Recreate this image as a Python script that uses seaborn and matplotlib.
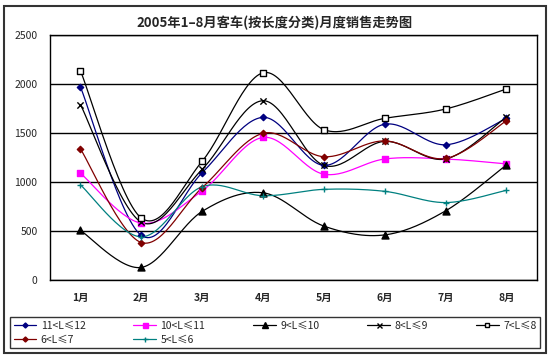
import numpy as np
import pandas as pd
import matplotlib
matplotlib.use('Agg')
import matplotlib.pyplot as plt
import seaborn as sns
from matplotlib.lines import Line2D
from matplotlib.patches import Rectangle

# Data
months = ['1月', '2月', '3月', '4月', '5月', '6月', '7月', '8月']
len_11_12 = [1970, 455, 1095, 1660, 1170, 1590, 1380, 1650]
len_10_11 = [1090, 580, 910, 1455, 1080, 1235, 1235, 1185]
len_9_10 = [505, 128, 700, 890, 550, 460, 705, 1175]
len_8_9 = [1790, 590, 1130, 1830, 1170, 1415, 1235, 1665]
len_7_8 = [2135, 632, 1212, 2115, 1535, 1650, 1745, 1950]
len_6_7 = [1337, 382, 942, 1497, 1258, 1420, 1240, 1625]
len_5_6 = [970, 440, 952, 860, 925, 905, 790, 915]

labels = ['11<L≤12', '10<L≤11', '9<L≤10', '8<L≤9', '7<L≤8', '6<L≤7', '5<L≤6']
series = [len_11_12, len_10_11, len_9_10, len_8_9, len_7_8, len_6_7, len_5_6]
colors = ['#000080', '#FF00FF', '#000000', '#000000', '#000000', '#800000', '#008080']
markers = ['D', 's', '^', 'x', 's', 'D', '+']
mfaces = ['#000080', '#FF00FF', '#000000', '#000000', 'white', '#800000', '#008080']
msizes = [3.2, 4.5, 5, 4.5, 4.2, 3.2, 4.5]

sns.set_theme(style='white')
plt.rcParams['font.family'] = ['Noto Sans CJK SC', 'DejaVu Sans']


def smooth(y, steps=30):
    """Excel-like smoothed line (Catmull-Rom bezier) through the points"""
    y = np.asarray(y, dtype=float)
    x = np.arange(len(y), dtype=float)
    pts = np.column_stack([x, y])
    out = []
    for i in range(len(pts) - 1):
        p0 = pts[max(i - 1, 0)]
        p1 = pts[i]
        p2 = pts[i + 1]
        p3 = pts[min(i + 2, len(pts) - 1)]
        c1 = p1 + (p2 - p0) / 6
        c2 = p2 - (p3 - p1) / 6
        t = np.linspace(0, 1, steps)[:, None]
        seg = ((1 - t) ** 3) * p1 + 3 * ((1 - t) ** 2) * t * c1 + 3 * (1 - t) * t ** 2 * c2 + t ** 3 * p2
        out.append(seg if i == 0 else seg[1:])
    return np.vstack(out)


fig = plt.figure(figsize=(5.5, 3.58), dpi=100)
ax = fig.add_axes([0.091, 0.218, 0.885, 0.684])

for vals, lab, col, mk, mf, ms in zip(series, labels, colors, markers, mfaces, msizes):
    curve = smooth(vals)
    curve_df = pd.DataFrame({'x': curve[:, 0], 'y': curve[:, 1]})
    sns.lineplot(data=curve_df, x='x', y='y', ax=ax, color=col, lw=0.9, sort=False)
    pts = pd.DataFrame({'x': np.arange(len(vals)), 'y': vals})
    sns.scatterplot(data=pts, x='x', y='y', ax=ax, marker=mk, s=ms ** 2,
                    color=mf, edgecolor=col, linewidth=1.0, zorder=5)

ax.set_xlim(-0.5, len(months) - 0.5)
ax.set_ylim(0, 2500)
ax.set_yticks(np.arange(0, 2501, 500))
ax.set_xticks(np.arange(len(months)))
ax.set_xticklabels(months, fontsize=7.5, fontweight='bold')
ax.set_yticklabels([str(v) for v in range(0, 2501, 500)], fontsize=7.5)
ax.tick_params(axis='x', length=0, pad=9)
ax.tick_params(axis='y', length=0, pad=9)
ax.set_xticks(np.arange(0.5, len(months) - 0.5), minor=True)
ax.tick_params(axis='x', which='minor', direction='in', length=3, width=0.8, color='black')
ax.set_xlabel('')
ax.set_ylabel('')
ax.grid(axis='y', color='black', lw=1.0)
ax.set_axisbelow(True)
for sp in ax.spines.values():
    sp.set_color('black')
    sp.set_linewidth(1.0)

fig.text(0.5, 0.935, '2005年1–8月客车(按长度分类)月度销售走势图', ha='center', va='center',
         fontsize=9.5, fontweight='bold')

handles = [Line2D([0], [0], color=c, lw=0.9, marker=m, markersize=s * 0.8,
                  markerfacecolor=f, markeredgecolor=c)
           for c, m, f, s in zip(colors, markers, mfaces, msizes)]
# legend fills column by column, so order the entries to read row by row
order = [0, 5, 1, 6, 2, 3, 4]
leg = fig.legend([handles[i] for i in order], [labels[i] for i in order], ncol=5,
                 loc='lower left', mode='expand',
                 bbox_to_anchor=(0.018, 0.028, 0.964, 0.089), fontsize=7.5,
                 frameon=True, fancybox=False, borderpad=0.35, handlelength=2.2,
                 handletextpad=0.4, labelspacing=0.35, borderaxespad=0)
leg.get_frame().set_edgecolor('black')
leg.get_frame().set_linewidth(1.0)
leg._legend_box.align = 'left'
for t in leg.get_texts():
    t.set_x(0)
leg.get_frame().set_x(leg.get_frame().get_x())
leg.set_bbox_to_anchor((0.018, 0.028, 0.964, 0.089), transform=fig.transFigure)

fig.patches.append(Rectangle((0.008, 0.014), 0.985, 0.969, transform=fig.transFigure,
                             fill=False, edgecolor='#333333', lw=1.5))

fig.savefig('out.png', dpi=100)
